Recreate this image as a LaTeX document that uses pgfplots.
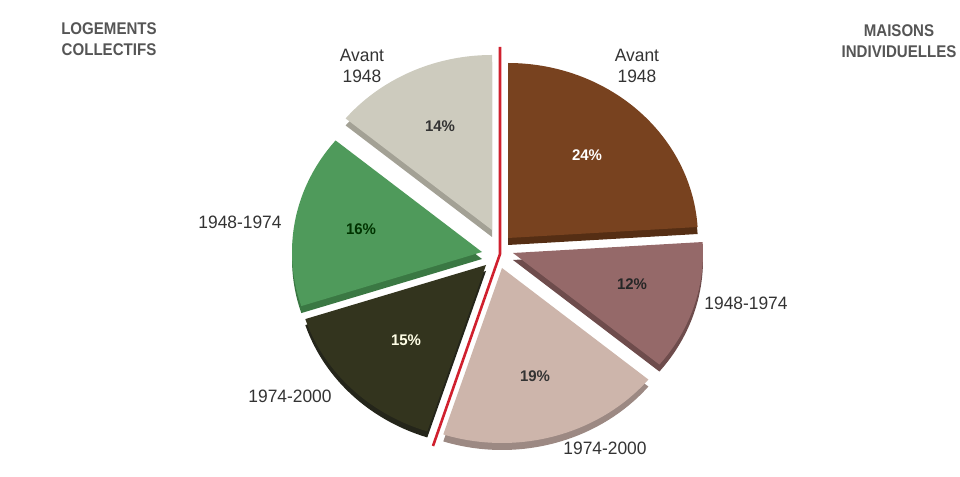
\documentclass[border=0pt]{standalone}
\usepackage{pgfplots}
\pgfplotsset{compat=1.18}
\usepackage{fontspec}
\setmainfont{Liberation Sans}[FakeStretch=0.97]
\newfontfamily\titlefont{Liberation Sans}[FakeStretch=0.89]
\definecolor{cGrey}{HTML}{CDCBBE}
\definecolor{cGreyS}{HTML}{A3A195}
\definecolor{cGreen}{HTML}{4F9A5B}
\definecolor{cGreenS}{HTML}{3A7843}
\definecolor{cDark}{HTML}{33341E}
\definecolor{cDarkS}{HTML}{24251A}
\definecolor{cPink}{HTML}{CDB5AB}
\definecolor{cPinkS}{HTML}{9C8983}
\definecolor{cMauve}{HTML}{956969}
\definecolor{cMauveS}{HTML}{6E4C4C}
\definecolor{cBrown}{HTML}{78421F}
\definecolor{cBrownS}{HTML}{552E14}
\definecolor{cRed}{HTML}{D0202E}
\definecolor{cLab}{HTML}{333333}
\definecolor{cTitle}{HTML}{555555}
% slice: apex x, apex y (pixels, y up), cumulative percent before, percent, colour
\newcommand\pieslice[5]{%
  \addplot[fill=#5, draw=none, domain={90-3.6*(#3+#4)}:{90-3.6*#3}, samples=60]
    ({#1+190*cos(x)},{#2+175*sin(x)}) -- (axis cs:#1,#2) -- cycle;}
\newcommand\lab{\fontsize{18}{21}\selectfont}
\newcommand\pct{\fontsize{15.5}{18}\selectfont\bfseries}
\begin{document}
\begin{tikzpicture}
\clip (0,0) rectangle (960bp,477bp);
\begin{axis}[at={(0,0)}, anchor=south west, width=960bp, height=477bp,
  scale only axis, xmin=0, xmax=960, ymin=0, ymax=477, hide axis, clip=false]
% sides (thickness)
\pieslice{508}{232}{0}{24}{cBrownS}
\pieslice{513}{217}{24}{12}{cMauveS}
\pieslice{502}{202}{36}{19}{cPinkS}
\pieslice{486}{206}{55}{15}{cDarkS}
\pieslice{482}{218}{70}{16}{cGreenS}
\pieslice{492}{240}{86}{14}{cGreyS}
% tops
\pieslice{508}{239}{0}{24}{cBrown}
\pieslice{513}{224}{24}{12}{cMauve}
\pieslice{502}{209}{36}{19}{cPink}
\pieslice{486}{212}{55}{15}{cDark}
\pieslice{482}{225}{70}{16}{cGreen}
\pieslice{492}{247}{86}{14}{cGrey}
% divider
\addplot[cRed, line width=2.6bp] coordinates {(500,430) (500,223) (433,31)};
% titles
\node[cTitle, align=center, font=\titlefont\fontsize{17}{21}\selectfont\bfseries] at (axis cs:109,438) {LOGEMENTS\\COLLECTIFS};
\node[cTitle, align=center, font=\titlefont\fontsize{17}{21}\selectfont\bfseries] at (axis cs:899,436) {MAISONS\\INDIVIDUELLES};
% category labels
\node[cLab, align=center, font=\lab] at (axis cs:362,411) {Avant\\1948};
\node[cLab, align=center, font=\lab] at (axis cs:637,411) {Avant\\1948};
\node[cLab, font=\lab] at (axis cs:240,255) {1948-1974};
\node[cLab, font=\lab] at (axis cs:746,174) {1948-1974};
\node[cLab, font=\lab] at (axis cs:290,81) {1974-2000};
\node[cLab, font=\lab] at (axis cs:605,29) {1974-2000};
% percentages
\node[font=\pct, text=cLab] at (axis cs:440,351) {14\%};
\node[font=\pct, text=white] at (axis cs:587,322) {24\%};
\node[font=\pct, text=black!80!green] at (axis cs:361,248) {16\%};
\node[font=\pct, text=white!90!yellow] at (axis cs:406,137) {15\%};
\node[font=\pct, text=black!80] at (axis cs:535,101) {19\%};
\node[font=\pct, text=black!85] at (axis cs:632,193) {12\%};
\end{axis}
\end{tikzpicture}
\end{document}
